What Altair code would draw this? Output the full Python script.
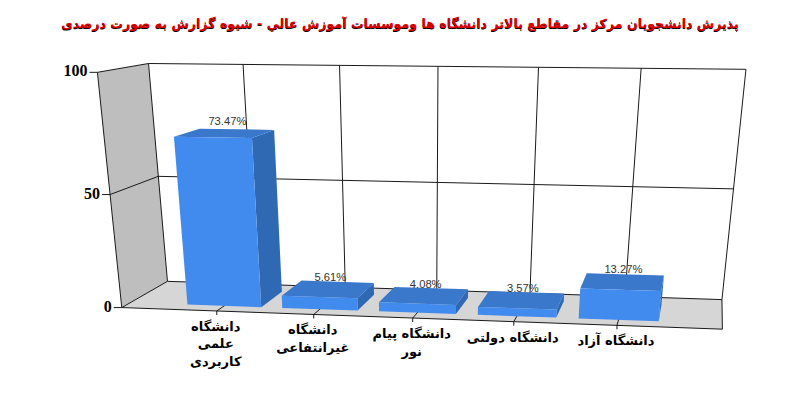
import numpy as np
import altair as alt

TITLE = "پذیرش  دانشجویان مرکز در مقاطع بالاتر دانشگاه ها وموسسات آموزش عالي - شیوه گزارش به صورت درصدی"
CATEGORIES = [
    ["دانشگاه", "علمی", "کاربردی"],
    ["دانشگاه", "غیرانتفاعی"],
    ["دانشگاه پیام", "نور"],
    ["دانشگاه دولتی"],
    ["دانشگاه آزاد"],
]
VALUES = [73.47, 5.61, 4.08, 3.57, 13.27]
AXIS_TICKS = [0, 50, 100]

# perspective of the 3D box: (slot, depth, value) -> page pixel
CALIB = [
    (0, 0, 0, 122, 307), (6, 0, 0, 722, 330), (0, 1, 0, 167, 281), (6, 1, 0, 722, 300),
    (0, 0, 100, 96, 71), (0, 1, 100, 148, 64), (6, 1, 100, 746, 70),
    (0, 0, 50, 112, 194), (0, 1, 50, 158, 177), (6, 1, 50, 734, 185),
    (1, 0, 0, 217, 311), (3, 0, 0, 412, 319), (5, 0, 0, 617, 326),
    (1, 1, 100, 243, 65), (3, 1, 100, 440, 67), (5, 1, 100, 640, 69),
]
A, b = [], []
for X, Y, Z, x, y in CALIB:
    Z = Z / 100
    A.append([X, Y, Z, 1, 0, 0, 0, 0, -x * X, -x * Y, -x * Z]); b.append(x)
    A.append([0, 0, 0, 0, X, Y, Z, 1, -y * X, -y * Y, -y * Z]); b.append(y)
P = np.append(np.linalg.lstsq(np.array(A, float), np.array(b, float), rcond=None)[0], 1).reshape(3, 4)


def proj(u, w, z):
    p = P @ np.array([u, w, z / 100, 1.0])
    return float(p[0] / p[2]), float(p[1] / p[2])


WIDTH, HEIGHT = 784, 384
xs = alt.Scale(domain=[8, 8 + WIDTH])
ys = alt.Scale(domain=[8, 8 + HEIGHT], reverse=True)


def poly(corners, fill):
    pts = [[x - 8, y - 8] for x, y in corners]
    pts.append(pts[0])
    return {"type": "Feature", "properties": {"fill": fill},
            "geometry": {"type": "Polygon", "coordinates": [pts]}}


def shapes(features):
    return alt.Chart(alt.Data(values=features)).mark_geoshape(strokeWidth=0).encode(
        fill=alt.Fill("properties.fill:N", scale=None)
    ).project(type="identity", scale=1, translate=[0, 0])


WALL, FLOOR, FRONT, TOP, SIDE = "#BEBEBE", "#D6D6D6", "#418BEE", "#3A78CC", "#2F69B4"

ground = shapes([
    poly([proj(0, 0, 0), proj(0, 1, 0), proj(0, 1, 100), proj(0, 0, 100)], WALL),
    poly([proj(0, 0, 0), proj(6, 0, 0), proj(6, 1, 0), proj(0, 1, 0)], FLOOR),
])

segs = []


def seg(a, b):
    segs.append({"x": a[0], "y": a[1], "x2": b[0], "y2": b[1]})


for z in AXIS_TICKS:
    seg(proj(0, 0, z), proj(0, 1, z))
    seg(proj(0, 1, z), proj(6, 1, z))
    ax, ay = proj(0, 0, z)
    seg((ax - 8, ay), (ax, ay))
seg(proj(0, 0, 0), proj(0, 0, 100))
seg(proj(0, 1, 0), proj(0, 1, 100))
seg(proj(0, 0, 0), proj(6, 0, 0))
seg(proj(6, 0, 0), proj(6, 1, 0))
for u in range(1, 7):
    seg(proj(u, 1, 0), proj(u, 1, 100))
for u in range(1, 6):
    fx, fy = proj(u, 0, 0)
    seg((fx, fy), (fx, fy + 4))
    seg((fx, fy), proj(u, 0.3, 0))

lines = alt.Chart(alt.Data(values=segs)).mark_rule(color="#1a1a1a", strokeWidth=1).encode(
    x=alt.X("x:Q", scale=xs, axis=None), y=alt.Y("y:Q", scale=ys, axis=None),
    x2="x2:Q", y2="y2:Q",
)

W0, W1, HALF = 0.18, 0.75, 0.39
bar_faces = []
for i, v in enumerate(VALUES, start=1):
    l, r = i - HALF, i + HALF
    bar_faces.append(poly([proj(r, W0, 0), proj(r, W1, 0), proj(r, W1, v), proj(r, W0, v)], SIDE))
    bar_faces.append(poly([proj(l, W0, v), proj(r, W0, v), proj(r, W1, v), proj(l, W1, v)], TOP))
    bar_faces.append(poly([proj(l, W0, 0), proj(r, W0, 0), proj(r, W0, v), proj(l, W0, v)], FRONT))
bars = shapes(bar_faces)


def text_layer(rows, **kw):
    return alt.Chart(alt.Data(values=rows)).mark_text(**kw).encode(
        x=alt.X("x:Q", scale=xs, axis=None), y=alt.Y("y:Q", scale=ys, axis=None), text="t:N"
    )


value_rows = []
for i, v in enumerate(VALUES, start=1):
    x = proj(i, 0.52, v)[0]
    y = proj(i, 0.72, v)[1]
    value_rows.append({"x": x, "y": y - 4 - 0.055 * v, "t": f"{v:.2f}%"})
value_text = text_layer(value_rows, font="Liberation Sans", fontSize=11.2, color="#333333", baseline="middle", align="center")

cat_rows = []
for i, cat in enumerate(CATEGORIES, start=1):
    x, y = proj(i, 0, 0)
    for k, line in enumerate(cat):
        cat_rows.append({"x": x - 1, "y": y + 16 + 17.5 * k, "t": line})
cat_text = text_layer(cat_rows, font="DejaVu Sans", fontSize=13, fontWeight="bold", color="#000000", baseline="middle", align="center")

tick_rows = []
for z in AXIS_TICKS:
    x, y = proj(0, 0, z)
    tick_rows.append({"x": x - 10, "y": y - 1, "t": str(z)})
tick_text = text_layer(tick_rows, font="Liberation Serif", fontSize=16, fontWeight="bold", color="#000000", baseline="middle", align="right")

title_shadow = text_layer([{"x": 400, "y": 24.5, "t": TITLE}], font="DejaVu Sans", fontSize=12.6, fontWeight="bold", color="#000000", baseline="middle", align="center")
title_text = text_layer([{"x": 400, "y": 24, "t": TITLE}], font="DejaVu Sans", fontSize=12.6, fontWeight="bold", color="#E00000", baseline="middle", align="center")

chart = alt.layer(
    ground, lines, bars, value_text, cat_text, tick_text, title_shadow, title_text
).properties(
    width=WIDTH, height=HEIGHT, padding=0, autosize=alt.AutoSizeParams(type="none")
).configure_view(stroke=None)

chart.save("out.html", embed_options={"renderer": "svg", "actions": False})
